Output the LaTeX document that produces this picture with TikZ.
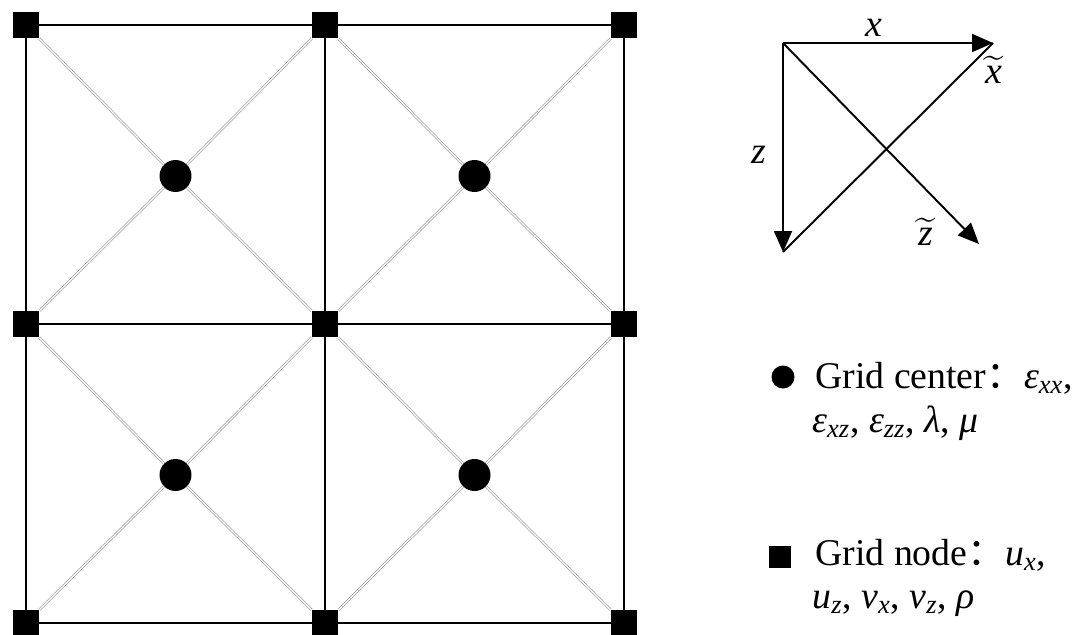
\documentclass[tikz,border=0pt]{standalone}
\usepackage{amsmath}
\usepackage{fontspec}
\setmainfont{Liberation Serif}
\newfontfamily\cjk{Noto Sans CJK SC}
\usetikzlibrary{arrows.meta}
\newcommand{\tld}[1]{\ensuremath{\widetilde{\text{\itshape #1}}}}
\newcommand{\iv}[2]{\textit{#1}\textsubscript{\textit{#2}}}

\begin{document}
\begin{tikzpicture}[x=0.02cm,y=-0.02cm,>={Triangle[length=0.42cm,width=0.36cm]},
    font=\fontsize{21.5}{25}\selectfont,
    gridnode/.style={fill=black,minimum size=0.52cm,inner sep=0pt},
    gridcenter/.style={circle,fill=black,minimum size=0.64cm,inner sep=0pt},
    cell/.style={line width=1.2pt},
    diag/.style={draw=gray!75,double=white,double distance=0.7pt,line width=0.4pt},
    axis/.style={line width=1.1pt},
    lbl/.style={inner sep=0pt}]
  \useasboundingbox (0,0) rectangle (1088,635);
  % grid nodes and cell centres
  \foreach \i in {0,1,2}
    \foreach \j in {0,1,2}
      \node[gridnode] (n\i\j) at ({26+299*\i},{25+299*\j}) {};
  \foreach \i in {0,1}
    \foreach \j in {0,1}
      \node[gridcenter] (c\i\j) at ({175.5+299*\i},{176+299*\j}) {};
  % cell edges
  \foreach \j in {0,1,2} \draw[cell] (n0\j) -- (n1\j) -- (n2\j);
  \foreach \i in {0,1,2} \draw[cell] (n\i0) -- (n\i1) -- (n\i2);
  % diagonals through the centres
  \foreach \i in {0,1}
    \foreach \j in {0,1} {
      \pgfmathtruncatemacro\ii{\i+1}
      \pgfmathtruncatemacro\jj{\j+1}
      \draw[diag] (n\i\j) -- (c\i\j) -- (n\ii\jj);
      \draw[diag] (n\ii\j) -- (c\i\j) -- (n\i\jj);
    }
  % axes
  \coordinate (O) at (783,43);
  \coordinate (X) at (993,43);
  \coordinate (Z) at (783,252);
  \coordinate (Zt) at (979,244);
  \draw[axis,->] (O) -- (X);
  \draw[axis,->] (O) -- (Z);
  \draw[axis,->] (O) -- (Zt);
  \draw[axis] (Z) -- (X);
  \node[lbl] (xl) at (874,28) {\textit{x}};
  \node[lbl] (zl) at (759,155) {\textit{z}};
  \node[lbl] (xtl) at (994,70) {\tld{x}};
  \node[lbl] (ztl) at (926,232) {\tld{z}};
  % legend
  \node[gridcenter,minimum size=0.46cm] (lc) at (783,377) {};
  \node[gridnode,minimum size=0.44cm] (ln) at (780,557) {};
  \node[lbl,anchor=base west] (t1) at (815,388) {Grid center{\cjk：}\iv{ε}{xx},};
  \node[lbl,anchor=base west] (t2) at (812,432) {\iv{ε}{xz}, \iv{ε}{zz}, \textit{λ}, \textit{μ}};
  \node[lbl,anchor=base west] (t3) at (815,565) {Grid node{\cjk：}\iv{u}{x},};
  \node[lbl,anchor=base west] (t4) at (812,608) {\iv{u}{z}, \iv{v}{x}, \iv{v}{z}, \textit{ρ}};
\end{tikzpicture}
\end{document}
